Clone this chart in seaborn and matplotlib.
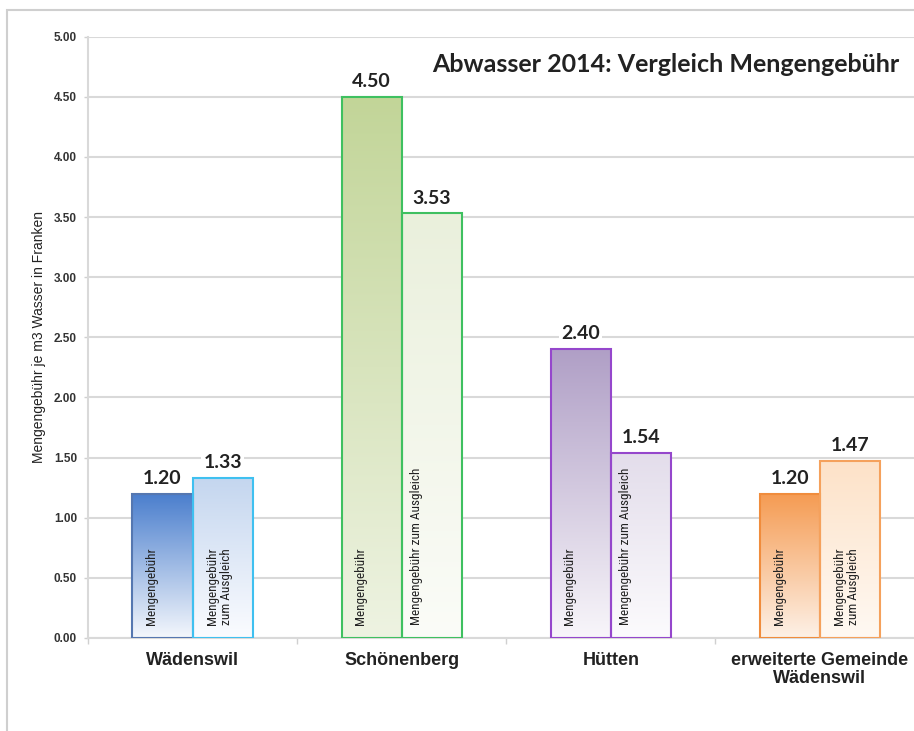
import numpy as np
import pandas as pd
import matplotlib
matplotlib.use("Agg")
import matplotlib.pyplot as plt
import seaborn as sns
from matplotlib import font_manager as fm
from matplotlib.font_manager import FontProperties
from matplotlib.colors import to_rgb
from matplotlib.patches import Rectangle

# ---------------- data ----------------
groups = ["Wädenswil", "Schönenberg", "Hütten", "erweiterte Gemeinde\nWädenswil"]
series = ["Mengengebühr", "Mengengebühr zum Ausgleich"]
gebuehr = [1.20, 4.50, 2.40, 1.20]
ausgleich = [1.33, 3.53, 1.54, 1.47]
inner_labels_left = ["Mengengebühr", "Mengengebühr", "Mengengebühr", "Mengengebühr"]
inner_labels_right = ["Mengengebühr\nzum Ausgleich", "Mengengebühr zum Ausgleich",
                      "Mengengebühr zum Ausgleich", "Mengengebühr\nzum Ausgleich"]
yticks = [0.0, 0.5, 1.0, 1.5, 2.0, 2.5, 3.0, 3.5, 4.0, 4.5, 5.0]
title = "Abwasser 2014: Vergleich Mengengebühr"
ylabel = "Mengengebühr je m3 Wasser in Franken"

df = pd.DataFrame({
    "Gemeinde": groups * 2,
    "Art": [series[0]] * 4 + [series[1]] * 4,
    "Wert": gebuehr + ausgleich,
})

# styles (top colour, bottom colour, edge colour) per bar, left/right per group
styles_left = [("#4a7ecd", "#f4f7fc", "#5577b0"),
               ("#c2d598", "#eef3e2", "#3fc060"),
               ("#b09fc6", "#f8f6fa", "#9547cc"),
               ("#f59b52", "#fdf1e7", "#f08c3c")]
styles_right = [("#c4d6ef", "#fbfcff", "#3fc0f0"),
                ("#eaf0dc", "#fbfcf8", "#3fc060"),
                ("#e3ddeb", "#fcfbfd", "#9547cc"),
                ("#fde2c8", "#fff9f3", "#f5a15c")]

names = {f.name for f in fm.fontManager.ttflist}
calib = "Lato" if "Lato" in names else "DejaVu Sans"

# look for a condensed / narrow font file for the labels inside the bars
narrow_fp = None
prefs = ["LiberationSansNarrow-Bold", "LiberationSansNarrow-Regular",
         "RobotoCondensed", "DejaVuSansCondensed-Bold", "DejaVuSansCondensed",
         "OpenSans_Condensed", "OpenSansCondensed", "Narrow", "Condensed"]
files = [f.fname for f in fm.fontManager.ttflist]
for key in prefs:
    hits = [f for f in files if key.lower() in f.lower() and "italic" not in f.lower()
            and "oblique" not in f.lower()]
    if hits:
        narrow_fp = FontProperties(fname=sorted(hits)[0])
        break
if narrow_fp is None:
    narrow_fp = FontProperties(family="Liberation Sans")
    inner_size = 7.5
else:
    inner_size = 9.5

sns.set_theme(style="white")
plt.rcParams["font.family"] = ["Liberation Sans", "DejaVu Sans"]

fig = plt.figure(figsize=(9.14, 7.31), dpi=100)
fig.patch.set_facecolor("white")
ax = fig.add_axes([88 / 914, (731 - 638) / 731, 1 - 88 / 914, (638 - 36.7) / 731])

sns.barplot(data=df, x="Gemeinde", y="Wert", hue="Art", order=groups,
            hue_order=series, width=0.575, gap=0, legend=False, ax=ax,
            errorbar=None, saturation=1)

xlim = (-0.5, (914 - 193) / 209)
ylim = (0, 5)

patches = sorted(ax.patches, key=lambda p: p.get_x())
for i, p in enumerate(patches):
    g = i // 2
    top, bot, edge = (styles_left if i % 2 == 0 else styles_right)[g]
    x0, y0, w, h = p.get_x(), p.get_y(), p.get_width(), p.get_height()
    t = np.linspace(0, 1, 256)[:, None]
    ct, cb = np.array(to_rgb(top)), np.array(to_rgb(bot))
    img = (ct[None, None, :] * (1 - t[..., None]) + cb[None, None, :] * t[..., None])
    img = np.repeat(img, 2, axis=1)
    im = ax.imshow(img, extent=[x0, x0 + w, y0, y0 + h], origin="upper",
                   aspect="auto", zorder=2, interpolation="bilinear")
    im.set_clip_path(p)
    p.set_facecolor("none")
    p.set_edgecolor(edge)
    p.set_linewidth(1.5)
    p.set_zorder(3)
    # value label
    ax.annotate(f"{h:.2f}", (x0 + w / 2, y0 + h), xytext=(0, 5),
                textcoords="offset points", ha="center", va="bottom",
                fontsize=14, fontweight="bold", family=calib, color="#222222",
                zorder=5,
                bbox=dict(boxstyle="square,pad=0.1", fc="white", ec="none"))
    # inner label
    lab = (inner_labels_left if i % 2 == 0 else inner_labels_right)[g]
    two = "\n" in lab
    xoff = 0.45 if two else (0.32 if i % 2 == 0 else 0.25)
    fp = narrow_fp.copy()
    fp.set_size(inner_size)
    ax.text(x0 + w * xoff, 0.11, lab, rotation=90, ha="center", va="bottom",
            fontproperties=fp, color="#222222", zorder=4,
            multialignment="left", linespacing=1.1)

ax.set_xlim(*xlim)
ax.set_ylim(*ylim)
ax.set_yticks(yticks)
ax.set_yticklabels([f"{v:.2f}" for v in yticks], fontsize=8.5,
                   fontweight="bold", color="#333333")
ax.yaxis.grid(True, color="#d9d9d9", linewidth=1.5, zorder=0)
ax.set_axisbelow(True)
ax.tick_params(axis="y", length=3, color="#d0d0d0", width=1, pad=5, left=True)
ax.tick_params(axis="x", length=0, pad=10)
ax.set_xticks(range(len(groups)))
ax.set_xticklabels(groups, fontsize=13, fontweight="bold", color="#222222",
                   linespacing=1.1)
ax.set_xticks([-0.5, 0.5, 1.5, 2.5], minor=True)
ax.tick_params(axis="x", which="minor", length=4, color="#d0d0d0", width=1,
               bottom=True)
ax.set_xlabel("")
ax.set_ylabel(ylabel, fontsize=10, color="#222222")
ax.yaxis.set_label_coords((46 - 88) / (914 - 88), 0.5)

for s in ["top", "right"]:
    ax.spines[s].set_visible(False)
for s in ["left", "bottom"]:
    ax.spines[s].set_color("#d9d9d9")
    ax.spines[s].set_linewidth(1.5)

fig.text(899 / 914, (731 - 65) / 731, title, ha="right", va="center",
         fontsize=18, fontweight="bold", family=calib, color="#222222")

# outer frame
fig.add_artist(Rectangle((7 / 914, -0.1), 1.2, (731 - 10) / 731 + 0.1,
                         transform=fig.transFigure, fill=False,
                         edgecolor="#cfcfcf", linewidth=1.5, zorder=0))

fig.savefig("out.png", dpi=100, facecolor="white")
